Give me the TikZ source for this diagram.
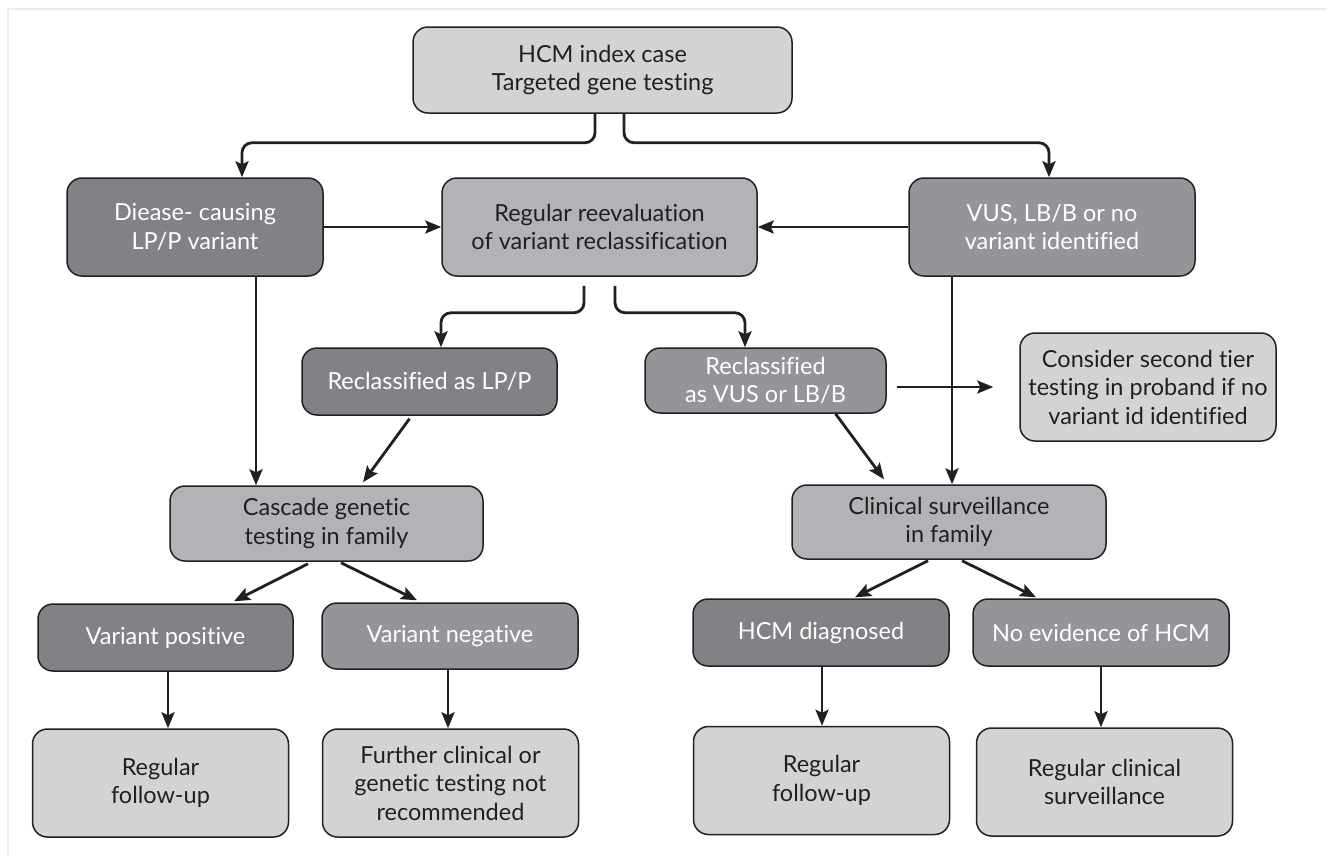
\documentclass[tikz,border=0pt]{standalone}
\usepackage{fontspec}
\setmainfont{Lato}[Ligatures={NoCommon}]
\usetikzlibrary{arrows.meta, positioning, calc}

\begin{document}
\begin{tikzpicture}[x=1pt,y=-1pt,>={Stealth[length=16pt,width=13pt,inset=3pt]},
  box/.style={draw=inkdark, line width=1.5pt, rounded corners=15pt, align=center, inner sep=0pt,
    font=\fontsize{23.5}{28.5}\selectfont},
  lightbox/.style={box, fill=lightgrey, text=inkdark},
  midbox/.style={box, fill=midgrey, text=inkdark},
  greybox/.style={box, fill=greygrey, text=white},
  darkbox/.style={box, fill=darkgrey, text=white},
  link/.style={->, line width=2.8pt, draw=inkdark}]

% Colors
\definecolor{inkdark}{RGB}{35,31,32}
\definecolor{lightgrey}{RGB}{209,211,212}
\definecolor{midgrey}{RGB}{177,179,182}
\definecolor{greygrey}{RGB}{147,149,152}
\definecolor{darkgrey}{RGB}{128,130,133}

\useasboundingbox (0,0) rectangle (1327,855);
\draw[gray!15, line width=1.2pt] (8,855) -- (8,9) -- (1327,9);

% Index case
\node[lightbox, minimum width=379pt, minimum height=86pt] (top) at (602.5,70) {HCM index case\\Targeted gene testing};

% First result
\node[darkbox, minimum width=256pt, minimum height=98pt] (dis) at (195,227) {Diease- causing\\LP/P variant};
\node[midbox, minimum width=315pt, minimum height=98pt] (reeval) at (599.5,227) {Regular reevaluation\\of variant reclassification};
\node[greybox, minimum width=286pt, minimum height=98pt] (vus) at (1052,227) {VUS, LB/B or no\\variant identified};

% Reclassification
\node[darkbox, minimum width=255pt, minimum height=67pt] (relp) at (429.5,381.5) {Reclassified as LP/P};
\node[greybox, minimum width=241pt, minimum height=65pt] (revus) at (765.5,380.5) {Reclassified\\as VUS or LB/B};
\node[lightbox, minimum width=256pt, minimum height=108pt] (tier) at (1148,387) {Consider second tier\\testing in proband if no\\variant id identified};

% Family
\node[midbox, minimum width=313pt, minimum height=75pt] (cascade) at (326.5,523.5) {Cascade genetic\\testing in family};
\node[midbox, minimum width=314pt, minimum height=74pt] (clin) at (949,522) {Clinical surveillance\\in family};

% Outcomes
\node[darkbox, minimum width=255pt, minimum height=67pt] (vpos) at (165.5,637.5) {Variant positive};
\node[greybox, minimum width=256pt, minimum height=66pt] (vneg) at (450,636) {Variant negative};
\node[darkbox, minimum width=256pt, minimum height=67pt] (hcmd) at (821,632.5) {HCM diagnosed};
\node[greybox, minimum width=256pt, minimum height=67pt] (noev) at (1101,632.5) {No evidence of HCM};

% Follow-up nodes
\foreach \n/\x/\y/\t in {fuA/160.5/783/{Regular\\follow-up},
                         further/450.5/783/{Further clinical or\\genetic testing not\\recommended},
                         fuB/821.5/780.5/{Regular\\follow-up},
                         rcs/1104.5/782/{Regular clinical\\surveillance}} {
    \node[lightbox, minimum width=256pt, minimum height=108pt] (\n) at (\x,\y) {\t};
}

% Connections: index case
\draw[link, rounded corners=10pt] ([xshift=-7.5pt]top.south) -- ++(0,29) -| ([xshift=47pt]dis.north);
\draw[link, rounded corners=10pt] ([xshift=21.5pt]top.south) -- ++(0,29) -| ([xshift=-3pt]vus.north);

% Connections: reevaluation
\draw[link] (dis.east) -- (reeval.west);
\draw[link] (vus.west) -- (reeval.east);
\draw[link, rounded corners=10pt] ([xshift=-15.5pt,yshift=-9pt]reeval.south) -- ++(0,27) -| ([xshift=11.5pt]relp.north);
\draw[link, rounded corners=10pt] ([xshift=15.5pt,yshift=-9pt]reeval.south) -- ++(0,27) -| ([xshift=-20.5pt]revus.north);
\draw[link] ([xshift=10pt]revus.east |- tier.west) -- ([xshift=-26pt]tier.west);

% Connections: to family
\draw[link] ([xshift=61pt]dis.south) -- ([xshift=61pt]dis.south |- cascade.north);
\draw[link] ([xshift=-20pt,yshift=-3pt]relp.south) -- ([xshift=36.5pt,yshift=3pt]cascade.north);
\draw[link] ([xshift=-100pt]vus.south) -- ([xshift=-100pt]vus.south |- clin.north);
\draw[link] ([xshift=70pt]revus.south) -- ([xshift=-65pt,yshift=5pt]clin.north);

% Connections: outcomes
\draw[link] ([xshift=-18.5pt,yshift=-2pt]cascade.south) -- ([xshift=68.5pt,yshift=2pt]vpos.north);
\draw[link] ([xshift=14.5pt,yshift=-1pt]cascade.south) -- ([xshift=-33pt,yshift=2pt]vneg.north);
\draw[link] ([xshift=-21pt,yshift=-1pt]clin.south) -- ([xshift=34pt,yshift=1pt]hcmd.north);
\draw[link] ([xshift=13pt,yshift=-1pt]clin.south) -- ([xshift=-65pt,yshift=1pt]noev.north);

% Connections: follow-up
\draw[link] ([xshift=2.5pt]vpos.south) -- ([xshift=2.5pt]vpos.south |- fuA.north);
\draw[link] ([xshift=-2pt]vneg.south) -- ([xshift=-2pt]vneg.south |- further.north);
\draw[link] ([xshift=1pt]hcmd.south) -- ([xshift=1pt]hcmd.south |- fuB.north);
\draw[link] (noev.south) -- (noev.south |- rcs.north);

\end{tikzpicture}
\end{document}
